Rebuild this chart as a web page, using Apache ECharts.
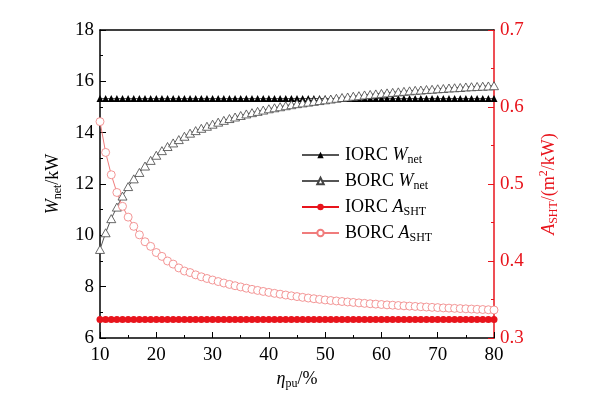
<!DOCTYPE html>
<html>
<head>
<meta charset="utf-8">
<script src="https://cdn.jsdelivr.net/npm/echarts@6/dist/echarts.min.js"></script>
<style>
  html, body { margin: 0; padding: 0; background: #fff; }
  #chart { width: 604px; height: 399px; }
</style>
</head>
<body>
<div id="chart"></div>
<script>
// eta_pu (%)
const etaPu = [10, 11, 12, 13, 14, 15, 16, 17, 18, 19, 20, 21, 22, 23, 24, 25, 26, 27, 28, 29,
  30, 31, 32, 33, 34, 35, 36, 37, 38, 39, 40, 41, 42, 43, 44, 45, 46, 47, 48, 49,
  50, 51, 52, 53, 54, 55, 56, 57, 58, 59, 60, 61, 62, 63, 64, 65, 66, 67, 68, 69,
  70, 71, 72, 73, 74, 75, 76, 77, 78, 79, 80]

// W_net (kW)
const iorcWnet = [15.33, 15.33, 15.33, 15.33, 15.33, 15.33, 15.33, 15.33, 15.33, 15.33, 15.33, 15.33, 15.33, 15.33, 15.33, 15.33, 15.33, 15.33, 15.33, 15.33,
  15.33, 15.33, 15.33, 15.33, 15.33, 15.33, 15.33, 15.33, 15.33, 15.33, 15.33, 15.33, 15.33, 15.33, 15.33, 15.33, 15.33, 15.33, 15.33, 15.33,
  15.33, 15.33, 15.33, 15.33, 15.33, 15.33, 15.33, 15.33, 15.33, 15.33, 15.33, 15.33, 15.33, 15.33, 15.33, 15.33, 15.33, 15.33, 15.33, 15.33,
  15.33, 15.33, 15.33, 15.33, 15.33, 15.33, 15.33, 15.33, 15.33, 15.33, 15.33]
const borcWnet = [9.45, 10.1, 10.65, 11.1, 11.53, 11.9, 12.2, 12.45, 12.7, 12.92, 13.12, 13.3, 13.46, 13.6, 13.73, 13.86, 13.98, 14.08, 14.17, 14.25,
  14.33, 14.41, 14.48, 14.55, 14.61, 14.67, 14.73, 14.78, 14.83, 14.88, 14.93, 14.97, 15.01, 15.05, 15.09, 15.13, 15.16, 15.19, 15.22, 15.25,
  15.28, 15.31, 15.34, 15.37, 15.39, 15.42, 15.44, 15.47, 15.49, 15.51, 15.53, 15.55, 15.57, 15.59, 15.61, 15.63, 15.65, 15.66, 15.68, 15.69,
  15.71, 15.72, 15.74, 15.75, 15.76, 15.78, 15.79, 15.8, 15.81, 15.82, 15.83]

// A_SHT (m2/kW)
const iorcAsht = [0.324, 0.324, 0.324, 0.324, 0.324, 0.324, 0.324, 0.324, 0.324, 0.324, 0.324, 0.324, 0.324, 0.324, 0.324, 0.324, 0.324, 0.324, 0.324, 0.324,
  0.324, 0.324, 0.324, 0.324, 0.324, 0.324, 0.324, 0.324, 0.324, 0.324, 0.324, 0.324, 0.324, 0.324, 0.324, 0.324, 0.324, 0.324, 0.324, 0.324,
  0.324, 0.324, 0.324, 0.324, 0.324, 0.324, 0.324, 0.324, 0.324, 0.324, 0.324, 0.324, 0.324, 0.324, 0.324, 0.324, 0.324, 0.324, 0.324, 0.324,
  0.324, 0.324, 0.324, 0.324, 0.324, 0.324, 0.324, 0.324, 0.324, 0.324, 0.324]
const borcAsht = [0.581, 0.541, 0.512, 0.489, 0.471, 0.457, 0.445, 0.434, 0.425, 0.419, 0.411, 0.406, 0.4, 0.396, 0.391, 0.387, 0.385, 0.382, 0.3795, 0.3773,
  0.3753, 0.3733, 0.3714, 0.3696, 0.3679, 0.3663, 0.3647, 0.3632, 0.3618, 0.3605, 0.3592, 0.358, 0.3569, 0.3558, 0.3548, 0.3538, 0.3528, 0.3519, 0.351, 0.3502,
  0.3494, 0.3487, 0.3481, 0.3474, 0.3468, 0.3462, 0.3456, 0.345, 0.3445, 0.344, 0.3435, 0.343, 0.3426, 0.3422, 0.3418, 0.3414, 0.341, 0.3406, 0.3402, 0.3398,
  0.3395, 0.3391, 0.3388, 0.3385, 0.3382, 0.3379, 0.3376, 0.3373, 0.337, 0.3367, 0.3364]

const RED = '#e8141c'
const PINK = '#f07c7c'
const FONT = '"Liberation Serif", "Times New Roman", serif'

const pairs = ys => etaPu.map((x, i) => [x, ys[i]])

const rich = color => ({
  n: { fontFamily: FONT, fontSize: 18, color, lineHeight: 22 },
  i: { fontFamily: FONT, fontSize: 18, color, fontStyle: 'italic', lineHeight: 22 },
  s: { fontFamily: FONT, fontSize: 12, color, verticalAlign: 'bottom', lineHeight: 14 },
  p: { fontFamily: FONT, fontSize: 12, color, verticalAlign: 'top', lineHeight: 14 },
})

const legendText = {
  'IORC Wnet': '{n|IORC }{i|W}{s|net}',
  'BORC Wnet': '{n|BORC }{i|W}{s|net}',
  'IORC ASHT': '{n|IORC }{i|A}{s|SHT}',
  'BORC ASHT': '{n|BORC }{i|A}{s|SHT}',
}

const chart = echarts.init(document.getElementById('chart'))

chart.setOption({
  animation: false,
  backgroundColor: '#fff',
  grid: { left: 100, right: 110, top: 30, bottom: 61 },
  legend: {
    left: 296,
    top: 141,
    orient: 'vertical',
    itemWidth: 37,
    itemHeight: 8,
    itemGap: 6,
    data: ['IORC Wnet', 'BORC Wnet', 'IORC ASHT', 'BORC ASHT'],
    formatter: name => legendText[name],
    textStyle: { rich: rich('#000'), padding: [0, 0, 0, 1] },
  },
  xAxis: [
    {
      type: 'value',
      min: 10,
      max: 80,
      interval: 10,
      name: '{i|η}{s|pu}{n|/%}',
      nameLocation: 'middle',
      nameGap: 29,
      nameTextStyle: { rich: rich('#000') },
      axisLine: { lineStyle: { color: '#000', width: 1.5 } },
      axisTick: { inside: true, length: 6, lineStyle: { color: '#000' } },
      minorTick: { show: true, splitNumber: 2, length: 3, lineStyle: { color: '#000' } },
      axisLabel: { fontFamily: FONT, fontSize: 19, color: '#000', margin: 8 },
      splitLine: { show: false },
    },
    {
      type: 'value',
      position: 'top',
      min: 10,
      max: 80,
      axisLine: { show: true, lineStyle: { color: '#000', width: 1.5 } },
      axisTick: { show: false },
      axisLabel: { show: false },
      splitLine: { show: false },
    },
  ],
  yAxis: [
    {
      type: 'value',
      min: 6,
      max: 18,
      interval: 2,
      name: '{i|W}{s|net}{n|/kW}',
      nameLocation: 'middle',
      nameRotate: 90,
      nameGap: 35,
      nameTextStyle: { rich: rich('#000') },
      axisLine: { show: true, lineStyle: { color: '#000', width: 1.5 } },
      axisTick: { inside: true, length: 6, lineStyle: { color: '#000' } },
      minorTick: { show: true, splitNumber: 2, length: 3, lineStyle: { color: '#000' } },
      axisLabel: { fontFamily: FONT, fontSize: 19, color: '#000', margin: 6 },
      splitLine: { show: false },
    },
    {
      type: 'value',
      position: 'right',
      min: 0.3,
      max: 0.7,
      interval: 0.1,
      name: '{i|A}{s|SHT}{n|/(m}{p|2}{n|/kW)}',
      nameLocation: 'middle',
      nameRotate: 90,
      nameGap: 44,
      nameTextStyle: { rich: rich(RED) },
      axisLine: { show: true, lineStyle: { color: RED, width: 1.5 } },
      axisTick: { inside: true, length: 6, lineStyle: { color: RED } },
      minorTick: { show: true, splitNumber: 2, length: 3, lineStyle: { color: RED } },
      axisLabel: { fontFamily: FONT, fontSize: 19, color: RED, margin: 6, formatter: v => v.toFixed(1) },
      splitLine: { show: false },
    },
  ],
  series: [
    {
      name: 'IORC Wnet',
      type: 'line',
      data: pairs(iorcWnet),
      symbol: 'triangle',
      symbolSize: [7, 7],
      lineStyle: { color: '#555', width: 1 },
      itemStyle: { color: '#000' },
    },
    {
      name: 'BORC Wnet',
      type: 'line',
      data: pairs(borcWnet),
      symbol: 'triangle',
      symbolSize: [9, 8],
      lineStyle: { color: '#555', width: 1 },
      itemStyle: { color: '#fff', borderColor: '#444', borderWidth: 0.8 },
    },
    {
      name: 'IORC ASHT',
      type: 'line',
      yAxisIndex: 1,
      data: pairs(iorcAsht),
      symbol: 'circle',
      symbolSize: 7,
      lineStyle: { color: RED, width: 1 },
      itemStyle: { color: RED },
    },
    {
      name: 'BORC ASHT',
      type: 'line',
      yAxisIndex: 1,
      data: pairs(borcAsht),
      symbol: 'circle',
      symbolSize: 8,
      lineStyle: { color: PINK, width: 1 },
      itemStyle: { color: '#fff', borderColor: PINK, borderWidth: 0.8 },
    },
  ],
})
</script>
</body>
</html>
